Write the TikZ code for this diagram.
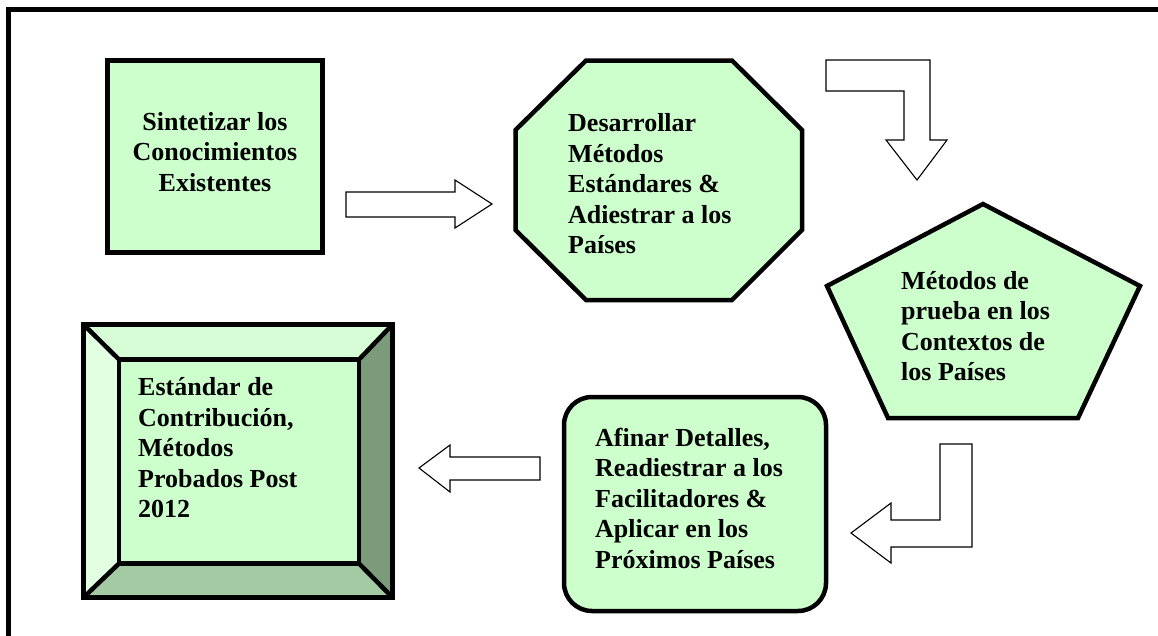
\documentclass[tikz,border=0pt]{standalone}
\usepackage{fontspec}
\setmainfont{Liberation Serif}
\begin{document}
\begin{tikzpicture}[x=1pt,y=-1pt,
  shapeline/.style={draw=black,line width=4.5pt,line join=miter},
  boxfill/.style={fill=boxgreen},
  blockarrow/.style={draw=black,line width=1.1pt,fill=white,line join=miter},
  label/.style={font=\bfseries\fontsize{26}{30.5}\selectfont,inner sep=0pt,text=black}]
\definecolor{boxgreen}{HTML}{CCFFCC}
\definecolor{bevtop}{HTML}{D6FDD6}
\definecolor{bevleft}{HTML}{E2FFE2}
\definecolor{bevright}{HTML}{7B9B7B}
\definecolor{bevbottom}{HTML}{A4CAA4}
\useasboundingbox (0,0) rectangle (1158,635);
% outer frame (open at right and bottom)
\draw[line width=4.5pt] (8.5,640) -- (8.5,9.5) -- (1165,9.5);

% square 1
\draw[shapeline,boxfill] (107.5,60.5) rectangle (322.5,252.5);
\node[label,align=center] (n1) at (215,152) {Sintetizar los\\Conocimientos\\Existentes};

% octagon
\draw[shapeline,boxfill] (586,60.5) -- (732,60.5) -- (802,130) -- (802,230) -- (732,300) -- (586,300) -- (515.5,230) -- (515.5,130) -- cycle;
\node[label,align=left,anchor=west] (n2) at (568,184) {Desarrollar\\Métodos\\Estándares \&\\Adiestrar a los\\Países};

% pentagon
\draw[shapeline,boxfill] (983,204) -- (1140,286) -- (1078,418) -- (888,418) -- (827,286) -- cycle;
\node[label,align=left,anchor=west] (n3) at (901,326) {Métodos de\\prueba en los\\Contextos de\\los Países};

% rounded rectangle
\draw[shapeline,boxfill,rounded corners=28pt] (564,397) rectangle (826,611);
\node[label,align=left,anchor=west] (n4) at (595,498) {Afinar Detalles,\\Readiestrar a los\\Facilitadores \&\\Aplicar en los\\Próximos Países};

% bevel box
\coordinate (bo1) at (83.5,324.5);
\coordinate (bo2) at (392.5,324.5);
\coordinate (bo3) at (392.5,597.5);
\coordinate (bo4) at (83.5,597.5);
\coordinate (bi1) at (119,359.5);
\coordinate (bi2) at (359,359.5);
\coordinate (bi3) at (359,563.5);
\coordinate (bi4) at (119,563.5);
\fill[bevtop] (bo1) -- (bo2) -- (bi2) -- (bi1) -- cycle;
\fill[bevright] (bo2) -- (bo3) -- (bi3) -- (bi2) -- cycle;
\fill[bevbottom] (bo3) -- (bo4) -- (bi4) -- (bi3) -- cycle;
\fill[bevleft] (bo4) -- (bo1) -- (bi1) -- (bi4) -- cycle;
\fill[boxgreen] (bi1) rectangle (bi3);
\draw[line width=4.5pt] (bo1) -- (bi1) (bo2) -- (bi2) (bo3) -- (bi3) (bo4) -- (bi4);
\draw[shapeline] (bi1) rectangle (bi3);
\draw[shapeline] (bo1) rectangle (bo3);
\node[label,align=left,anchor=west] (n5) at (138,448) {Estándar de\\Contribución,\\Métodos\\Probados Post\\2012};

% block arrows
\draw[blockarrow] (346,192) -- (455,192) -- (455,180) -- (492,204) -- (455,228) -- (455,217) -- (346,217) -- cycle;
\draw[blockarrow] (826,60) -- (930,60) -- (930,140) -- (947,140) -- (917,180) -- (886,140) -- (904,140) -- (904,91) -- (826,91) -- cycle;
\draw[blockarrow] (940,444) -- (972,444) -- (972,547) -- (891,547) -- (891,563) -- (851,533) -- (891,503) -- (891,520) -- (940,520) -- cycle;
\draw[blockarrow] (540,457) -- (450,457) -- (450,445) -- (419,468) -- (450,492) -- (450,480) -- (540,480) -- cycle;
\end{tikzpicture}
\end{document}
